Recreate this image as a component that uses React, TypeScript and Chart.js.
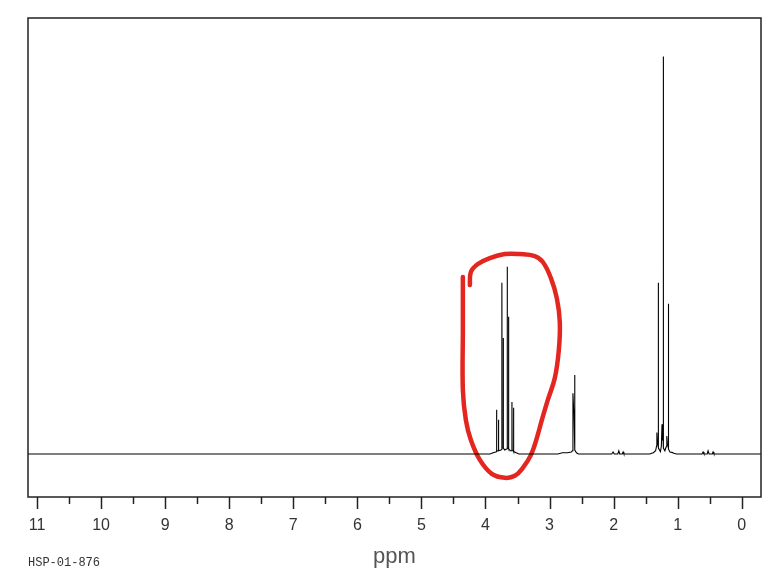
import React, { useEffect, useRef } from 'react';
import { Chart, registerables } from 'chart.js';

Chart.register(...registerables);

// ---- Data (ppm, intensity; tallest line = 100) ----
const specPpm = [
  11.14, 3.93, 3.88, 3.84, 3.83, 3.827, 3.824, 3.8, 3.797, 3.794,
  3.76, 3.747, 3.744, 3.741, 3.726, 3.723, 3.72, 3.7, 3.664, 3.661,
  3.658, 3.643, 3.64, 3.637, 3.61, 3.59, 3.587, 3.584, 3.565, 3.562,
  3.559, 3.52, 3.48,
  2.87, 2.8, 2.72, 2.66, 2.645, 2.635, 2.624, 2.618, 2.61, 2.603, 2.58, 2.55,
  2.03, 2.008, 1.99, 1.935, 1.919, 1.905, 1.865, 1.852, 1.84,
  1.44, 1.38, 1.345, 1.33, 1.325, 1.316, 1.306, 1.303, 1.3, 1.27,
  1.255, 1.245, 1.235, 1.228, 1.225, 1.222, 1.2, 1.18, 1.17, 1.16,
  1.148, 1.145, 1.142, 1.12, 1.09, 1.06, 1.02,
  0.62, 0.604, 0.59, 0.54, 0.526, 0.51, 0.46, 0.448, 0.435, -0.3,
];
const specInt = [
  0, 0, 0.3, 0.5, 0.6, 11.1, 0.8, 0.8, 8.6, 0.8,
  1.0, 1.2, 43.1, 1.5, 1.5, 29.2, 1.5, 1.0, 1.3, 47.1,
  1.5, 1.5, 34.5, 1.3, 0.8, 0.8, 13.1, 0.8, 0.8, 11.6,
  0.6, 0.3, 0,
  0, 0.3, 0.3, 0.5, 0.8, 15.3, 11, 11, 19.9, 1.0, 0.3, 0,
  0, 0.5, 0, 0, 0.8, 0, 0, 0.5, 0,
  0, 0.3, 0.8, 2, 5.4, 2.5, 2.8, 43.1, 1.5, 0.6,
  2, 7.5, 3.5, 3.5, 100, 1.5, 0.8, 1.8, 4.5, 2.2,
  2.2, 37.8, 1.2, 0.5, 0.4, 0.2, 0,
  0, 0.5, 0, 0, 0.8, 0, 0, 0.5, 0, 0,
];

// hand-drawn red annotation loop around the 3.6-3.8 ppm multiplet
const loopPpm = [
  4.353, 4.353, 4.353, 4.306, 4.228, 4.088, 3.901, 3.698, 3.542, 3.417,
  3.292, 3.199, 3.121, 3.027, 2.918, 2.855, 2.84, 2.887, 2.98, 3.105,
  3.23, 3.464, 3.698, 3.932, 4.119, 4.228, 4.244,
];
const loopInt = [
  44.5, 31.2, 16.1, 8.5, 3.5, -1.5, -5.0, -6.0, -5.5, -3.5,
  -0.3, 4.0, 8.5, 13.6, 19.1, 26.2, 33.2, 39.2, 44.3, 48.3,
  49.8, 50.3, 50.3, 49.3, 47.8, 45.8, 42.5,
];

const X_MIN = -0.3;
const X_MAX = 11.14;
const Y_MIN = -10.83;
const Y_MAX = 109.7;
const axisTitle = 'ppm';
const sampleId = 'HSP-01-876';

const framePlugin = {
  id: 'nmrFrame',
  afterDraw(chart: any) {
    const { ctx, chartArea: a, scales } = chart;
    const x = scales.x;
    ctx.save();
    ctx.strokeStyle = '#222';
    ctx.lineWidth = 1.5;
    ctx.strokeRect(a.left, a.top, a.right - a.left, a.bottom - a.top);
    ctx.lineWidth = 1.5;
    for (let v = Math.ceil(X_MIN * 2) / 2; v <= X_MAX + 1e-9; v += 0.5) {
      const px = Math.round(x.getPixelForValue(v)) + 0.5;
      const major = Math.abs(v - Math.round(v)) < 1e-6;
      ctx.beginPath();
      ctx.moveTo(px, a.bottom);
      ctx.lineTo(px, a.bottom + (major ? 12 : 7));
      ctx.stroke();
    }
    ctx.font = '12px "Liberation Mono", monospace';
    ctx.fillStyle = '#333';
    ctx.textBaseline = 'alphabetic';
    ctx.textAlign = 'left';
    ctx.fillText(sampleId, a.left, 566);
    ctx.restore();
  },
};

export default function App() {
  const ref = useRef<HTMLCanvasElement | null>(null);
  useEffect(() => {
    document.body.style.margin = '0';
    const canvas = ref.current;
    if (!canvas) return;
    const chart = new Chart(canvas, {
      type: 'line',
      data: {
        datasets: [
          {
            data: specPpm.map((p, i) => ({ x: p, y: specInt[i] })),
            borderColor: '#000',
            borderWidth: 1.1,
            pointRadius: 0,
            tension: 0,
            fill: false,
          },
          {
            data: loopPpm.map((p, i) => ({ x: p, y: loopInt[i] })),
            borderColor: '#e3261f',
            borderWidth: 4.5,
            pointRadius: 0,
            tension: 0.4,
            fill: false,
            borderCapStyle: 'round',
            borderJoinStyle: 'round',
          },
        ],
      },
      options: {
        responsive: false,
        animation: false,
        events: [],
        layout: { padding: { left: 28, right: 20, top: 18, bottom: 0 } },
        plugins: { legend: { display: false }, tooltip: { enabled: false } },
        scales: {
          x: {
            type: 'linear',
            reverse: true,
            min: X_MIN,
            max: X_MAX,
            grid: { display: false, drawTicks: false },
            border: { display: false },
            ticks: {
              stepSize: 1,
              includeBounds: false,
              autoSkip: false,
              maxRotation: 0,
              padding: 19,
              color: '#333',
              font: { family: '"Liberation Sans", Arial, sans-serif', size: 16 },
              callback: (v: any) => String(v),
            },
            title: {
              display: true,
              text: axisTitle,
              color: '#555',
              padding: { top: 0, bottom: 10 },
              font: { family: '"Liberation Sans", Arial, sans-serif', size: 22 },
            },
            afterFit: (s: any) => {
              s.height = 83;
            },
          },
          y: {
            type: 'linear',
            display: false,
            min: Y_MIN,
            max: Y_MAX,
          },
        },
      },
      plugins: [framePlugin],
    } as any);
    return () => chart.destroy();
  }, []);
  return (
    <div style={{ width: 781, height: 580, background: '#fff' }}>
      <canvas ref={ref} width={781} height={580} style={{ display: 'block' }} />
    </div>
  );
}
